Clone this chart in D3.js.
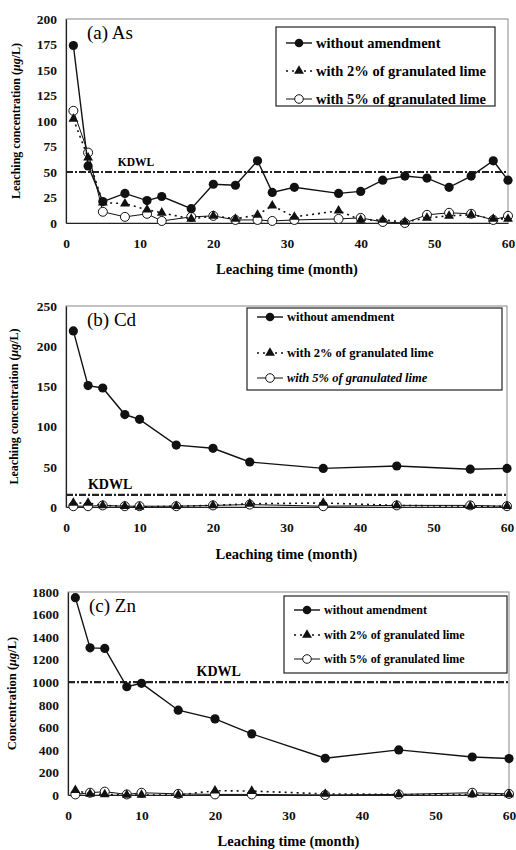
<!DOCTYPE html>
<html>
<head>
<meta charset="utf-8">
<script src="https://cdn.jsdelivr.net/npm/d3@7"></script>
<style>
  body { margin: 0; background: #fff; }
  svg { display: block; }
</style>
</head>
<body>
<svg id="chart"></svg>
<script>
// series labels
const seriesNames = ['without amendment', 'with 2% of granulated lime', 'with 5% of granulated lime'];

// (a) As
const monthsAs = [1, 3, 5, 8, 11, 13, 17, 20, 23, 26, 28, 31, 37, 40, 43, 46, 49, 52, 55, 58, 60];
const asNone = [174, 56, 21, 29, 22, 26, 14, 38, 37, 61, 30, 35, 29, 31, 42, 46, 44, 35, 46, 61, 42];
const asLime2 = [102, 64, 20, 19, 13, 10, 4, 7, 4, 8, 17, 6, 12, 3, 3, 1, 5, 7, 8, 4, 4];
const asLime5 = [110, 69, 11, 6, 9, 2, 6, 7, 3, 3, 2, 3, 4, 5, 1, 0, 8, 10, 9, 3, 7];
const kdwlAs = 50;
const yTicksAs = [0, 25, 50, 75, 100, 125, 150, 175, 200];

// (b) Cd and (c) Zn share sampling months
const monthsCdZn = [1, 3, 5, 8, 10, 15, 20, 25, 35, 45, 55, 60];
const cdNone = [219, 151, 148, 115, 109, 77, 73, 56, 48, 51, 47, 48];
const cdLime2 = [5, 5, 2, 1, 0, 1, 2, 4, 5, 2, 1, 1];
const cdLime5 = [1, 1, 2, 1, 1, 1, 2, 3, 1, 2, 2, 1];
const kdwlCd = 15;
const yTicksCd = [0, 50, 100, 150, 200, 250];

const znNone = [1750, 1305, 1300, 960, 990, 752, 675, 542, 326, 400, 337, 323];
const znLime2 = [42, 10, 5, 0, 0, 0, 38, 35, 10, 5, 5, 5];
const znLime5 = [5, 20, 30, 5, 20, 10, 5, 5, 0, 5, 20, 10];
const kdwlZn = 1000;
const yTicksZn = [0, 200, 400, 600, 800, 1000, 1200, 1400, 1600, 1800];

const xTicks = [0, 10, 20, 30, 40, 50, 60];

// layout for each panel (pixel boxes)
const panels = [
  { title: '(a) As', months: monthsAs, series: [asNone, asLime2, asLime5], kdwl: kdwlAs, yTicks: yTicksAs,
    yLabel: 'Leaching concentration (', box: { l: 66, r: 508, t: 19, b: 223 },
    legend: { x: 276, y: 27, w: 219, h: 79, rows: [43, 71, 99], fs: 14.5 },
    kdwlX: 9.5, yLabelX: 20, xLabelY: 274, labelFs: 12, italic5: false },
  { title: '(b) Cd', months: monthsCdZn, series: [cdNone, cdLime2, cdLime5], kdwl: kdwlCd, yTicks: yTicksCd,
    yLabel: 'Leaching concentration (', box: { l: 66, r: 507, t: 306, b: 507 },
    legend: { x: 247, y: 308, w: 255, h: 82, rows: [317, 353, 378], fs: 12.5 },
    kdwlX: 6, yLabelX: 18, xLabelY: 559, labelFs: 12, italic5: true },
  { title: '(c) Zn', months: monthsCdZn, series: [znNone, znLime2, znLime5], kdwl: kdwlZn, yTicks: yTicksZn,
    yLabel: 'Concentration (', box: { l: 68, r: 509, t: 592, b: 795 },
    legend: { x: 284, y: 596, w: 223, h: 77, rows: [610, 635, 659], fs: 12 },
    kdwlX: 20.5, yLabelX: 16, xLabelY: 846, labelFs: 12.5, italic5: false }
];

const FONT = '"Liberation Serif", "DejaVu Serif", serif';

const svg = d3.select('#chart')
  .attr('width', 516)
  .attr('height', 850)
  .attr('font-family', FONT);

const triangle = d3.symbol().type(d3.symbolTriangle).size(42);

panels.forEach(p => {
  const g = svg.append('g');
  const x = d3.scaleLinear().domain([0, 60]).range([p.box.l, p.box.r]);
  const y = d3.scaleLinear().domain([0, d3.max(p.yTicks)]).range([p.box.b, p.box.t]);

  // plot frame
  g.append('rect')
    .attr('x', p.box.l).attr('y', p.box.t)
    .attr('width', p.box.r - p.box.l).attr('height', p.box.b - p.box.t)
    .attr('fill', 'none').attr('stroke', '#888').attr('stroke-width', 1);

  // axes (no tick marks, bold labels)
  const yAxis = g.append('g')
    .attr('transform', `translate(${p.box.l},0)`)
    .call(d3.axisLeft(y).tickValues(p.yTicks).tickSize(0).tickPadding(9).tickFormat(d3.format('d')));
  const xAxis = g.append('g')
    .attr('transform', `translate(0,${p.box.b})`)
    .call(d3.axisBottom(x).tickValues(xTicks).tickSize(0).tickPadding(15));
  [yAxis, xAxis].forEach(a => {
    a.select('.domain').attr('stroke', '#222').attr('stroke-width', 1.2);
    a.selectAll('text').attr('font-family', FONT).attr('font-weight', 'bold')
      .attr('font-size', 13.5).attr('fill', '#111');
  });

  // KDWL limit line
  g.append('line')
    .attr('x1', x(0)).attr('x2', x(60))
    .attr('y1', y(p.kdwl)).attr('y2', y(p.kdwl))
    .attr('stroke', '#222').attr('stroke-width', 2.2)
    .attr('stroke-dasharray', '7,2,2,2');
  g.append('text')
    .attr('x', x(p.kdwlX)).attr('y', y(p.kdwl) - 6)
    .attr('text-anchor', 'middle')
    .attr('font-weight', 'bold').attr('font-size', p === panels[0] ? 11.5 : 14)
    .text('KDWL');

  // series, drawn back to front
  const line = d3.line().x(d => x(d[0])).y(d => y(d[1]));
  const pts = s => p.months.map((m, i) => [m, s[i]]);

  // 5% lime: thin solid line, open circles
  g.append('path').datum(pts(p.series[2])).attr('d', line)
    .attr('fill', 'none').attr('stroke', '#111').attr('stroke-width', 1);
  g.selectAll('.c5').data(pts(p.series[2])).join('circle')
    .attr('cx', d => x(d[0])).attr('cy', d => y(d[1])).attr('r', 4.5)
    .attr('fill', '#fff').attr('stroke', '#111').attr('stroke-width', 1);

  // 2% lime: dotted line, filled triangles
  g.append('path').datum(pts(p.series[1])).attr('d', line)
    .attr('fill', 'none').attr('stroke', '#111').attr('stroke-width', 1.6)
    .attr('stroke-dasharray', '2,4');
  g.selectAll('.t2').data(pts(p.series[1])).join('path')
    .attr('d', triangle)
    .attr('transform', d => `translate(${x(d[0])},${y(d[1])})`)
    .attr('fill', '#111');

  // without amendment: solid line, filled circles
  g.append('path').datum(pts(p.series[0])).attr('d', line)
    .attr('fill', 'none').attr('stroke', '#111').attr('stroke-width', 1.4);
  g.selectAll('.c0').data(pts(p.series[0])).join('circle')
    .attr('cx', d => x(d[0])).attr('cy', d => y(d[1])).attr('r', 4.6)
    .attr('fill', '#111');

  // panel title
  g.append('text')
    .attr('x', p.box.l + 21).attr('y', p.box.t + 20)
    .attr('font-size', 19).text(p.title);

  // axis titles
  g.append('text')
    .attr('x', (p.box.l + p.box.r) / 2).attr('y', p.xLabelY)
    .attr('text-anchor', 'middle').attr('font-weight', 'bold').attr('font-size', 14.5)
    .text('Leaching time (month)');
  const yl = g.append('text')
    .attr('transform', `translate(${p.yLabelX},${(p.box.t + p.box.b) / 2}) rotate(-90)`)
    .attr('text-anchor', 'middle').attr('font-weight', 'bold').attr('font-size', p.labelFs);
  yl.append('tspan').text(p.yLabel);
  yl.append('tspan').attr('font-style', 'italic').text('μg');
  yl.append('tspan').text('/L)');

  // legend
  const L = p.legend;
  const lg = g.append('g');
  lg.append('rect')
    .attr('x', L.x).attr('y', L.y).attr('width', L.w).attr('height', L.h)
    .attr('fill', '#fff').attr('stroke', '#222').attr('stroke-width', 1.2);
  const sx0 = L.x + 10, sx1 = L.x + 36;
  seriesNames.forEach((name, i) => {
    const ry = L.rows[i];
    const row = lg.append('g');
    row.append('line').attr('x1', sx0).attr('x2', sx1).attr('y1', ry).attr('y2', ry)
      .attr('stroke', '#111')
      .attr('stroke-width', i === 0 ? 1.4 : (i === 1 ? 1.6 : 1))
      .attr('stroke-dasharray', i === 1 ? '2,4' : null);
    const cx = (sx0 + sx1) / 2;
    if (i === 0) row.append('circle').attr('cx', cx).attr('cy', ry).attr('r', 4.3).attr('fill', '#111');
    if (i === 1) row.append('path').attr('d', triangle).attr('transform', `translate(${cx},${ry})`).attr('fill', '#111');
    if (i === 2) row.append('circle').attr('cx', cx).attr('cy', ry).attr('r', 4.3)
      .attr('fill', '#fff').attr('stroke', '#111');
    row.append('text')
      .attr('x', sx1 + 4).attr('y', ry).attr('dy', '0.35em')
      .attr('font-weight', 'bold').attr('font-size', L.fs)
      .attr('font-style', i === 2 && p.italic5 ? 'italic' : null)
      .text(name);
  });
});
</script>
</body>
</html>
